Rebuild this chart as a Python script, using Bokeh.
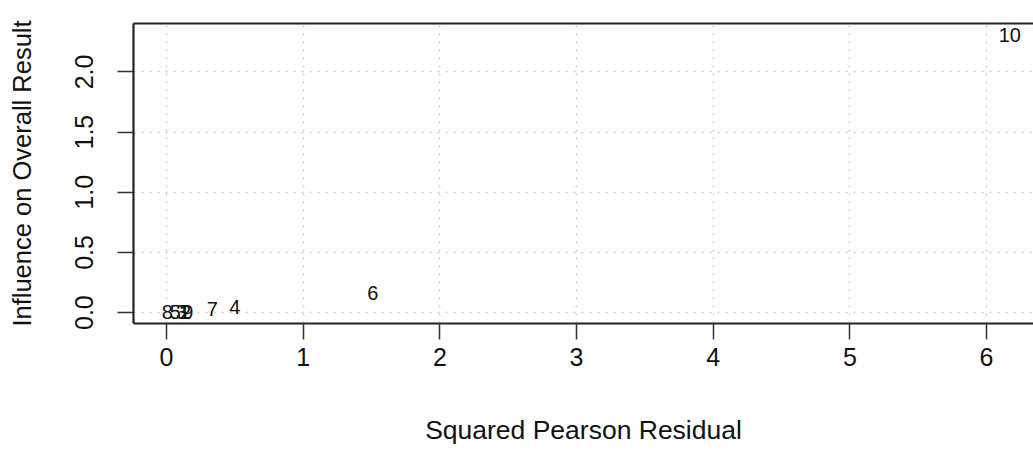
from bokeh.plotting import figure
from bokeh.models import (Range1d, LinearAxis, FixedTicker, PrintfTickFormatter,
                          ColumnDataSource)
from bokeh.core.properties import value
from bokeh.embed import file_html
from bokeh.resources import INLINE

# Baujat plot: contribution to heterogeneity vs influence on the pooled result
studies = ["1", "2", "3", "4", "5", "6", "7", "8", "9", "10"]
sq_pearson_resid = [0.13, 0.14, 0.11, 0.50, 0.065, 1.51, 0.335, 0.005, 0.155, 6.17]
influence = [0.005, 0.004, 0.006, 0.043, 0.003, 0.159, 0.03, 0.002, 0.005, 2.31]

x_ticks = [0, 1, 2, 3, 4, 5, 6]
y_ticks = [0.0, 0.5, 1.0, 1.5, 2.0]

FONT = "Liberation Sans"
INK = "#111111"

# R-style 4% padding around the data
xmin, xmax = min(sq_pearson_resid), max(sq_pearson_resid)
ymin, ymax = min(influence), max(influence)
xpad = 0.04 * (xmax - xmin)
ypad = 0.04 * (ymax - ymin)
x_start = xmin - xpad
full_x_end = xmax + xpad

W, H = 1033, 455
left, top, bottom = 133, 23, 132
full_frame_w = 910  # plot region runs a little past the page's right edge
frame_w = W - left
px_per_unit = full_frame_w / (full_x_end - x_start)
x_end = x_start + frame_w / px_per_unit

p = figure(width=W, height=H, output_backend="svg", toolbar_location=None,
           x_range=Range1d(x_start, x_end), y_range=Range1d(ymin - ypad, ymax + ypad),
           x_axis_location=None, y_axis_location=None,
           min_border_left=left, min_border_right=0,
           min_border_top=top, min_border_bottom=bottom)
p.outline_line_color = None
p.background_fill_color = "white"
p.border_fill_color = "white"

xaxis = LinearAxis(ticker=FixedTicker(ticks=x_ticks),
                   formatter=PrintfTickFormatter(format="%d"),
                   axis_label="Squared Pearson Residual")
yaxis = LinearAxis(ticker=FixedTicker(ticks=y_ticks),
                   formatter=PrintfTickFormatter(format="%.1f"),
                   axis_label="Influence on Overall Result",
                   major_label_orientation="vertical")
for ax in (xaxis, yaxis):
    ax.axis_line_color = "#222222"
    ax.axis_line_width = 2.2
    ax.major_tick_line_color = "#333333"
    ax.major_tick_line_width = 1.5
    ax.major_tick_out = 16
    ax.major_tick_in = 0
    ax.minor_tick_line_color = None
    ax.major_label_text_font = FONT
    ax.major_label_text_font_size = "25px"
    ax.major_label_text_color = INK
    ax.axis_label_text_font = FONT
    ax.axis_label_text_font_size = "26.5px"
    ax.axis_label_text_font_style = "normal"
    ax.axis_label_text_color = INK
yaxis.axis_label_text_font_size = "25.5px"
xaxis.major_label_standoff = 8
xaxis.axis_label_standoff = 46
yaxis.major_label_standoff = 24
yaxis.axis_label_standoff = 37
p.add_layout(xaxis, "below")
p.add_layout(yaxis, "left")

# top edge of the box
topaxis = LinearAxis(ticker=FixedTicker(ticks=[]), major_label_text_font_size="0px")
topaxis.axis_line_color = "#222222"
topaxis.axis_line_width = 2.2
topaxis.major_tick_line_color = None
topaxis.minor_tick_line_color = None
p.add_layout(topaxis, "above")

p.xgrid.ticker = FixedTicker(ticks=x_ticks)
p.ygrid.ticker = FixedTicker(ticks=y_ticks)
for g in (p.xgrid, p.ygrid):
    g.grid_line_color = "#cfcfcf"
    g.grid_line_dash = "2 6"
    g.grid_line_width = 1.5

src = ColumnDataSource(dict(x=sq_pearson_resid, y=influence, lab=studies))
p.text(x="x", y="y", text="lab", source=src, text_align="center",
       text_baseline="middle", text_font=value(FONT), text_font_size="20px",
       text_color=INK)

open("out.html", "w").write(file_html(p, INLINE))
